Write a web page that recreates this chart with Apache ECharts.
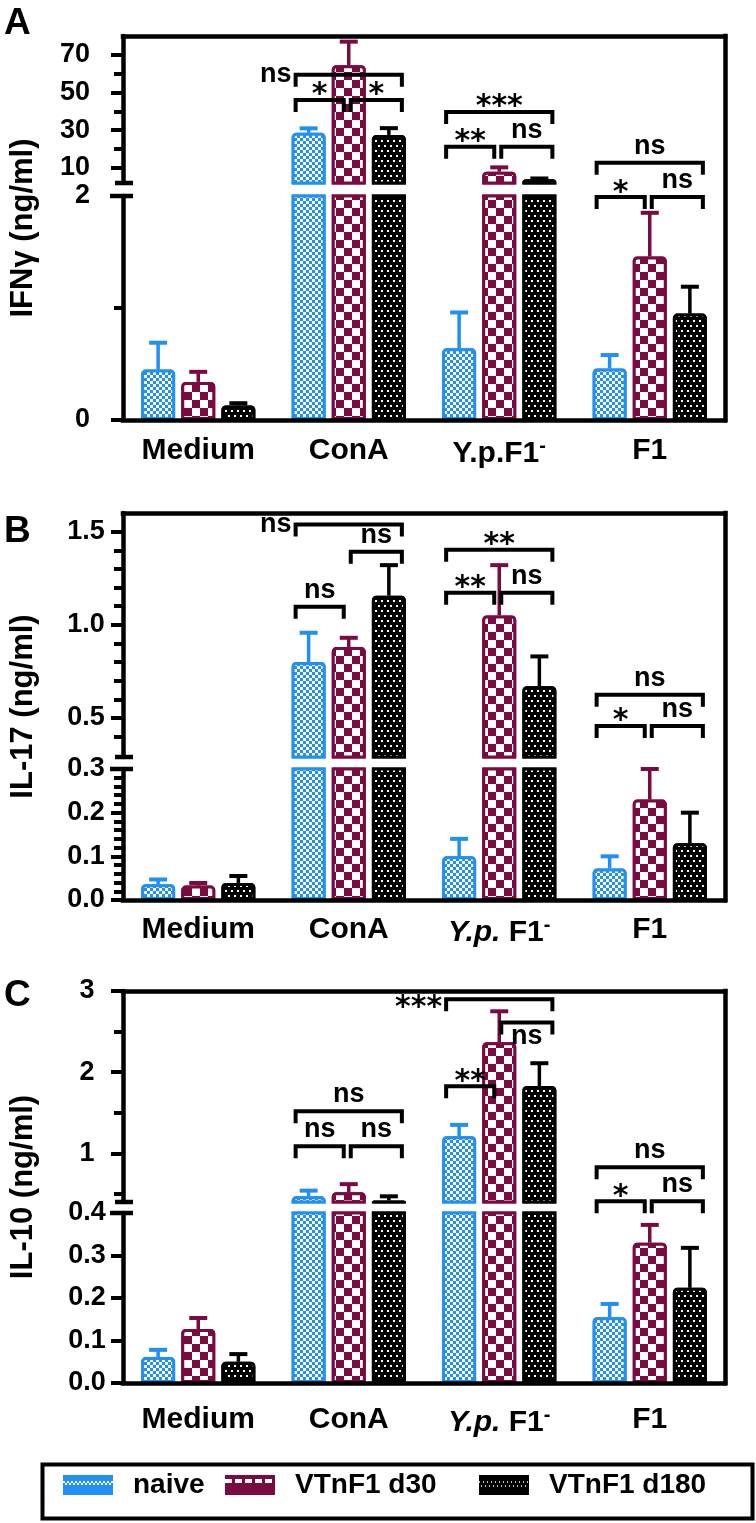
<!DOCTYPE html>
<html>
<head>
<meta charset="utf-8">
<title>IFNγ, IL-17 and IL-10 responses</title>
<script src="https://cdn.jsdelivr.net/npm/echarts@6/dist/echarts.min.js"></script>
<style>
  html, body { margin: 0; padding: 0; background: #fff; }
  #chart { width: 756px; height: 1523px; }
</style>
</head>
<body>
<div id="chart"></div>
<script>
const groups = ['naive', 'VTnF1 d30', 'VTnF1 d180'];
const categoriesA = ['Medium', 'ConA', 'Y.p.F1⁻', 'F1'];
const categoriesBC = ['Medium', 'ConA', 'Y.p. F1⁻', 'F1'];

// A: IFNγ (ng/ml), mean and SEM
const ifnNaive = [0.45, 28.6, 0.64, 0.46];
const ifnNaiveSem = [0.24, 2.4, 0.32, 0.12];
const ifnD30 = [0.34, 64.5, 8.0, 1.46];
const ifnD30Sem = [0.09, 12.5, 2.3, 0.39];
const ifnD180 = [0.13, 27.5, 4.0, 0.95];
const ifnD180Sem = [0.02, 3.6, 0.4, 0.24];

// B: IL-17 (ng/ml)
const il17Naive = [0.036, 0.80, 0.10, 0.072];
const il17NaiveSem = [0.011, 0.157, 0.04, 0.028];
const il17D30 = [0.033, 0.88, 1.05, 0.23];
const il17D30Sem = [0.006, 0.05, 0.27, 0.07];
const il17D180 = [0.039, 1.156, 0.67, 0.13];
const il17D180Sem = [0.016, 0.164, 0.16, 0.07];

// C: IL-10 (ng/ml)
const il10Naive = [0.061, 0.47, 1.21, 0.155];
const il10NaiveSem = [0.017, 0.07, 0.14, 0.031];
const il10D30 = [0.127, 0.52, 2.37, 0.33];
const il10D30Sem = [0.026, 0.1, 0.38, 0.042];
const il10D180 = [0.05, 0.42, 1.83, 0.224];
const il10D180Sem = [0.018, 0.05, 0.28, 0.094];

// broken y axes: lower and upper segment ranges, ticks
const ifnLoRange = [0, 2];
const ifnHiRange = [2, 80];
const ifnLoTicks = [0, 2];
const ifnLoMinor = [1];
const ifnHiTicks = [10, 30, 50, 70];
const ifnHiMinor = [20, 40, 60];

const il17LoRange = [0, 0.3];
const il17HiRange = [0.29, 1.6];
const il17LoTicks = [0, 0.1, 0.2, 0.3];
const il17LoMinor = [0.02, 0.04, 0.06, 0.08, 0.12, 0.14, 0.16, 0.18, 0.22, 0.24, 0.26, 0.28];
const il17HiTicks = [0.5, 1.0, 1.5];
const il17HiMinor = [0.4, 0.6, 0.7, 0.8, 0.9, 1.1, 1.2, 1.3, 1.4];

const il10LoRange = [0, 0.4];
const il10HiRange = [0.4, 3];
const il10LoTicks = [0, 0.1, 0.2, 0.3, 0.4];
const il10LoMinor = [];
const il10HiTicks = [1, 2, 3];
const il10HiMinor = [0.5, 1.5, 2.5];

// significance brackets: [category, from bar, to bar, level, text, text position]
const ifnBrackets = [
  [1, 0, 2, 59.4, 'ns', 'left'],
  [1, 0, 1, 46.1, '*', 'top'],
  [1, 1, 2, 46.1, '*', 'top'],
  [2, 0, 2, 39.7, '***', 'top'],
  [2, 0, 1, 21.2, '**', 'top'],
  [2, 1, 2, 21.2, 'ns', 'top'],
  [3, 0, 2, 12.7, 'ns', 'top'],
  [3, 0, 1, 1.99, '*', 'top'],
  [3, 1, 2, 1.99, 'ns', 'top']
];
const il17Brackets = [
  [1, 0, 2, 1.538, 'ns', 'left'],
  [1, 1, 2, 1.392, 'ns', 'top'],
  [1, 0, 1, 1.097, 'ns', 'top'],
  [2, 0, 2, 1.403, '**', 'top'],
  [2, 0, 1, 1.172, '**', 'top'],
  [2, 1, 2, 1.172, 'ns', 'top'],
  [3, 0, 2, 0.624, 'ns', 'top'],
  [3, 0, 1, 0.457, '*', 'top'],
  [3, 1, 2, 0.457, 'ns', 'top']
];
const il10Brackets = [
  [1, 0, 2, 1.517, 'ns', 'top'],
  [1, 0, 1, 1.086, 'ns', 'top'],
  [1, 1, 2, 1.086, 'ns', 'top'],
  [2, 0, 2, 2.897, '***', 'left'],
  [2, 1, 2, 2.613, 'ns', 'below'],
  [2, 0, 1, 1.825, '**', 'top'],
  [3, 0, 2, 0.828, 'ns', 'top'],
  [3, 0, 1, 0.409, '*', 'top'],
  [3, 1, 2, 0.409, 'ns', 'top']
];

const FONT = "'Liberation Sans', Arial, sans-serif";
const STAR_FONT = "'DejaVu Sans', sans-serif";
const COLORS = ['#2190f2', '#7a0a40', '#000000'];
const DECALS = [
  { symbol: 'rect', symbolSize: 1, color: '#ffffff', dashArrayX: [[3, 3], [0, 3, 3, 0]], dashArrayY: [3, 0] },
  { symbol: 'rect', symbolSize: 1, color: '#ffffff', dashArrayX: [[8, 8], [0, 8, 8, 0]], dashArrayY: [8, 0] },
  { symbol: 'rect', symbolSize: 1, color: '#ffffff', dashArrayX: [[2, 4], [0, 3, 2, 1]], dashArrayY: [2, 3] }
];
// legend swatches: solid with one patterned strip across the middle
const E = [0, 4];
const LEGEND_DECALS = [
  { symbol: 'rect', symbolSize: 1, symbolKeepAspect: false, color: '#ffffff',
    dashArrayX: [E, E, E, E, [2, 2], [0, 2, 2, 0], E, E, E, E], dashArrayY: [2, 0] },
  { symbol: 'rect', symbolSize: 1, symbolKeepAspect: false, color: '#ffffff',
    dashArrayX: [[0, 10], [0, 10], [7, 3], [0, 10], [0, 10]], dashArrayY: [4, 0] },
  { symbol: 'rect', symbolSize: 1, symbolKeepAspect: false, color: '#bbbbbb',
    dashArrayX: [E, E, E, E, [1, 3], [0, 4], [0, 2, 1, 1], E, E, E], dashArrayY: [2, 0] }
];
const BAR_W = 34;
const PITCH = BAR_W * 1.18;
const LINE = { color: '#000', width: 4.5, cap: 'square' };

const panels = [
  { letter: 'A', title: 'IFNγ (ng/ml)', cats: categoriesA,
    means: [ifnNaive, ifnD30, ifnD180], sems: [ifnNaiveSem, ifnD30Sem, ifnD180Sem],
    lo: ifnLoRange, hi: ifnHiRange, loTicks: ifnLoTicks, loMinor: ifnLoMinor,
    hiTicks: ifnHiTicks, hiMinor: ifnHiMinor, loDigits: 0, hiDigits: 0, brackets: ifnBrackets,
    hiTop: 36, hiH: 147, loTop: 196, loH: 224, labelAlign: 'right', labelMargin: 33, catMargin: 16, letterTop: 5 },
  { letter: 'B', title: 'IL-17 (ng/ml)', cats: categoriesBC,
    means: [il17Naive, il17D30, il17D180], sems: [il17NaiveSem, il17D30Sem, il17D180Sem],
    lo: il17LoRange, hi: il17HiRange, loTicks: il17LoTicks, loMinor: il17LoMinor,
    hiTicks: il17HiTicks, hiMinor: il17HiMinor, loDigits: 1, hiDigits: 1, brackets: il17Brackets,
    hiTop: 513, hiH: 244, loTop: 769, loH: 131, labelAlign: 'center', labelMargin: 37, catMargin: 15, letterTop: 513 },
  { letter: 'C', title: 'IL-10 (ng/ml)', cats: categoriesBC,
    means: [il10Naive, il10D30, il10D180], sems: [il10NaiveSem, il10D30Sem, il10D180Sem],
    lo: il10LoRange, hi: il10HiRange, loTicks: il10LoTicks, loMinor: il10LoMinor,
    hiTicks: il10HiTicks, hiMinor: il10HiMinor, loDigits: 1, hiDigits: 0, brackets: il10Brackets,
    hiTop: 991, hiH: 211, loTop: 1213, loH: 170, labelAlign: 'center', labelMargin: 36, catMargin: 22, letterTop: 977 }
];

function catLabel(v) {
  const sup = v.endsWith('⁻');
  const s = sup ? v.slice(0, -1) : v;
  let out = s.startsWith('Y.p. ') ? '{it|Y.p.}{n| ' + s.slice(5) + '}' : '{n|' + s + '}';
  return sup ? out + '{sup|-}' : out;
}

function valueAxis(gridIndex, range, ticks, digits, p) {
  return {
    gridIndex, type: 'value', min: range[0], max: range[1], position: 'left',
    axisLine: { show: true, onZero: false, lineStyle: { color: '#000', width: 4.5 } },
    axisTick: { show: true, length: 12, customValues: ticks, lineStyle: { color: '#000', width: 4 } },
    axisLabel: {
      customValues: ticks, margin: p.labelMargin, align: p.labelAlign, hideOverlap: false,
      formatter: v => Number(v).toFixed(digits),
      fontSize: 27, fontWeight: 'bold', fontFamily: FONT, color: '#000'
    },
    splitLine: { show: false }
  };
}

function minorAxis(gridIndex, range, ticks) {
  return {
    gridIndex, type: 'value', min: range[0], max: range[1], position: 'left',
    axisLine: { show: false },
    axisTick: { show: ticks.length > 0, length: 9, customValues: ticks, lineStyle: { color: '#000', width: 4 } },
    axisLabel: { show: false },
    splitLine: { show: false }
  };
}

function barSeries(p, seg, gi, xi, yi) {
  const data = p.means[gi].map(v => {
    if (seg === 'hi') return v > p.hi[0] ? v : '-';
    return v > p.lo[1] ? { value: v, itemStyle: { borderRadius: 0 } } : v;
  });
  return {
    type: 'bar', name: groups[gi], xAxisIndex: xi, yAxisIndex: yi, data,
    barWidth: BAR_W, barGap: '18%', z: 2, silent: true,
    itemStyle: { color: COLORS[gi], borderColor: COLORS[gi], borderWidth: 3, borderRadius: [3, 3, 0, 0], decal: DECALS[gi] }
  };
}

function errorSeries(p, seg, xi, yi) {
  const items = [];
  p.means.forEach((m, gi) => m.forEach((v, ci) => {
    if ((seg === 'lo') === (v <= p.lo[1])) items.push([ci, v + p.sems[gi][ci], v, gi]);
  }));
  return {
    type: 'custom', xAxisIndex: xi, yAxisIndex: yi, data: items, z: 3, silent: true,
    renderItem(params, api) {
      const ci = api.value(0), gi = api.value(3);
      const base = api.coord([ci, api.value(2)]);
      const tip = api.coord([ci, api.value(1)]);
      const x = base[0] + (gi - 1) * PITCH;
      const stroke = COLORS[gi];
      return { type: 'group', children: [
        { type: 'line', shape: { x1: x, y1: base[1], x2: x, y2: tip[1] }, style: { stroke, lineWidth: 3.5 } },
        { type: 'line', shape: { x1: x - 9, y1: tip[1], x2: x + 9, y2: tip[1] }, style: { stroke, lineWidth: 4 } }
      ] };
    }
  };
}

const END_L = [-13, 2, 0];
const END_R = [0, -5, 13];

function bracketSeries(p, seg, xi, yi) {
  const list = p.brackets.filter(b => (b[3] > p.hi[0]) === (seg === 'hi'));
  return {
    type: 'custom', xAxisIndex: xi, yAxisIndex: yi, z: 5, silent: true,
    data: list.map(b => [b[0], b[3]]),
    renderItem(params, api) {
      const b = list[params.dataIndex];
      const c = api.coord([b[0], b[3]]);
      const x0 = c[0] + (b[1] - 1) * PITCH + END_L[b[1]];
      const x1 = c[0] + (b[2] - 1) * PITCH + END_R[b[2]];
      const y = c[1];
      const stars = b[4].indexOf('*') >= 0;
      const glyph = stars ? -6.7 : 2.4;
      let tx = (x0 + x1) / 2, ty, align = 'center';
      if (b[5] === 'top') ty = y - (stars ? 11 : 14) - glyph;
      else if (b[5] === 'below') ty = y + 17 - glyph;
      else { tx = x0 - 4; ty = y + 2 - glyph; align = 'right'; }
      return { type: 'group', children: [
        { type: 'polyline', shape: { points: [[x0, y + 12], [x0, y], [x1, y], [x1, y + 12]] },
          style: { stroke: '#000', lineWidth: 4, fill: null } },
        { type: 'text', x: tx, y: ty, style: {
          text: b[4], align, verticalAlign: 'middle', fill: '#000', fontWeight: 'bold',
          fontFamily: stars ? STAR_FONT : FONT, fontSize: stars ? 30 : 27 } }
      ] };
    }
  };
}

function breakSeries(p, seg, xi, yi) {
  return {
    type: 'custom', xAxisIndex: xi, yAxisIndex: yi, z: 6, silent: true,
    data: [[0, seg === 'hi' ? p.hi[0] : p.lo[1]]],
    renderItem(params) {
      const cs = params.coordSys;
      const y = seg === 'hi' ? cs.y + cs.height : cs.y;
      const x0 = cs.x - (seg === 'hi' ? 8 : 13);
      return { type: 'line', shape: { x1: x0, y1: y, x2: cs.x + 10, y2: y },
        style: { stroke: '#000', lineWidth: 4.5 } };
    }
  };
}

const grid = [], xAxis = [], yAxis = [], series = [];
panels.forEach(p => {
  const g0 = grid.length, y0 = yAxis.length;
  const common = { left: 123, right: 31, outerBoundsMode: 'none', containLabel: false };
  grid.push({ ...common, top: p.hiTop, height: p.loTop + p.loH - p.hiTop });
  grid.push({ ...common, top: p.hiTop, height: p.hiH });
  grid.push({ ...common, top: p.loTop, height: p.loH });

  xAxis.push({ gridIndex: g0, type: 'category', data: p.cats, position: 'top', z: 10,
    axisLine: { onZero: false, lineStyle: LINE }, axisTick: { show: false }, axisLabel: { show: false } });
  xAxis.push({ gridIndex: g0 + 1, type: 'category', data: p.cats, show: false });
  xAxis.push({ gridIndex: g0 + 2, type: 'category', data: p.cats, position: 'bottom', z: 10,
    axisLine: { onZero: false, lineStyle: LINE }, axisTick: { show: false },
    axisLabel: {
      interval: 0, margin: p.catMargin, formatter: catLabel,
      fontSize: 30, fontWeight: 'bold', fontFamily: FONT, color: '#000',
      rich: {
        n: { fontSize: 30, fontWeight: 'bold', fontFamily: FONT, color: '#000' },
        it: { fontSize: 30, fontWeight: 'bold', fontStyle: 'italic', fontFamily: FONT, color: '#000' },
        sup: { fontSize: 20, fontWeight: 'bold', fontFamily: FONT, color: '#000', padding: [0, 0, 15, 0] }
      }
    } });

  yAxis.push({ gridIndex: g0, type: 'value', min: 0, max: 1, position: 'left',
    name: p.title, nameLocation: 'middle', nameGap: 84, nameRotate: 90,
    nameTextStyle: { fontSize: 31, fontWeight: 'bold', fontFamily: FONT, color: '#000' },
    axisLine: { show: false }, axisTick: { show: false }, axisLabel: { show: false }, splitLine: { show: false } });
  yAxis.push({ gridIndex: g0, type: 'value', min: 0, max: 1, position: 'right',
    axisLine: { show: true, onZero: false, lineStyle: LINE }, axisTick: { show: false },
    axisLabel: { show: false }, splitLine: { show: false } });
  yAxis.push(valueAxis(g0 + 1, p.hi, p.hiTicks, p.hiDigits, p));
  yAxis.push(minorAxis(g0 + 1, p.hi, p.hiMinor));
  yAxis.push(valueAxis(g0 + 2, p.lo, p.loTicks, p.loDigits, p));
  yAxis.push(minorAxis(g0 + 2, p.lo, p.loMinor));

  ['hi', 'lo'].forEach((seg, si) => {
    const xi = g0 + 1 + si, yi = y0 + 2 + 2 * si;
    groups.forEach((name, gi) => series.push(barSeries(p, seg, gi, xi, yi)));
    series.push(errorSeries(p, seg, xi, yi));
    series.push(bracketSeries(p, seg, xi, yi));
    series.push(breakSeries(p, seg, xi, yi));
  });
});

const legendLeft = [63, 225, 479];
const legend = groups.map((g, i) => ({
  data: [g], left: legendLeft[i], top: 1471, padding: 0, selectedMode: false,
  icon: 'rect', itemWidth: 50, itemHeight: 20,
  itemStyle: { borderWidth: 0, decal: LEGEND_DECALS[i] },
  textStyle: { fontSize: 28, fontWeight: 'bold', fontFamily: FONT, color: '#000', padding: [0, 0, 0, 15] }
}));

const chart = echarts.init(document.getElementById('chart'), null, { renderer: 'canvas' });
chart.setOption({
  animation: false,
  backgroundColor: '#fff',
  grid, xAxis, yAxis, series, legend,
  graphic: [
    ...panels.map(p => ({ type: 'text', left: 4, top: p.letterTop,
      style: { text: p.letter, fontSize: 37, fontWeight: 'bold', fontFamily: FONT, fill: '#000' } })),
    { type: 'rect', left: 40, top: 1462, shape: { x: 0, y: 0, width: 710, height: 54 },
      style: { fill: 'none', stroke: '#000', lineWidth: 4 } }
  ]
});
</script>
</body>
</html>
